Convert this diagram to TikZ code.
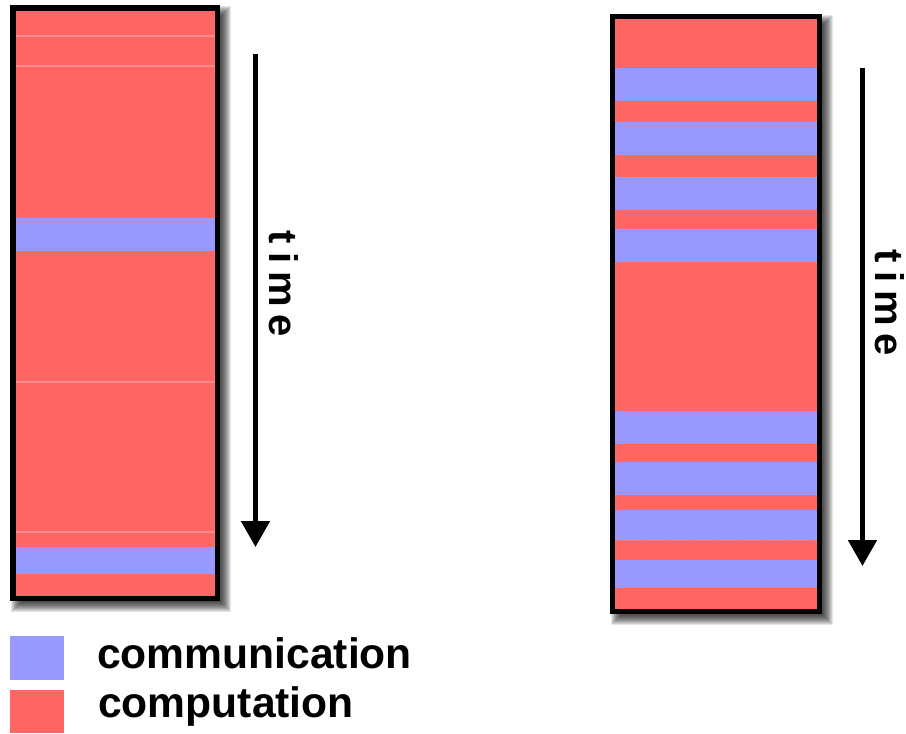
\documentclass[tikz,border=0pt]{standalone}
\usepackage{fontspec}
\setmainfont{Liberation Sans}
\usetikzlibrary{arrows.meta}
\definecolor{comp}{RGB}{255,102,102}
\definecolor{comm}{RGB}{153,153,255}
\definecolor{seam}{RGB}{255,140,140}
\newcommand\barshadow[4]{%
  \foreach \d in {-5,...,5}{%
    \fill[black,opacity=0.1] ({#1+6-\d},{#2+6-\d}) rectangle ({#3+6+\d},{#4+6+\d});}}
\begin{document}
\begin{tikzpicture}[x=1pt,y=-1pt,
  border/.style={draw=black,line width=5.5pt},
  commband/.style={fill=comm},
  seamline/.style={draw=seam,line width=1.5pt},
  timearrow/.style={line width=5pt,-{Triangle[length=26pt,width=28pt]}},
  timelabel/.style={rotate=-90,anchor=base,inner sep=0pt,font=\fontsize{40}{44}\selectfont\bfseries},
  legtext/.style={anchor=base west,inner sep=0pt,font=\fontsize{42.6}{48}\selectfont\bfseries},
  legbox/.style={inner sep=0pt,anchor=north west}]
\useasboundingbox (0,0) rectangle (906,734);
% ---------- left bar ----------
\barshadow{10}{5}{220}{601}
\fill[comp] (13,8) rectangle (217.5,598.5);
\foreach \y in {36,66,382,532} \draw[seamline] (16,\y) -- (215,\y);
\fill[commband] (16,218) rectangle (215,251);
\fill[commband] (16,547) rectangle (215,574);
\draw[border] (13,8) rectangle (217.5,598.5);
% ---------- right bar ----------
\barshadow{610}{14}{822}{614}
\fill[comp] (612.5,16.5) rectangle (819.5,611.5);
\foreach \a/\b in {68/101,122/155,177/210,229/262,411/444,462/495,510/540,560/588}
  \fill[commband] (615,\a) rectangle (817,\b);
\draw[seam,line width=1pt,dotted] (615,540) -- (817,540);
\draw[border] (612.5,16.5) rectangle (819.5,611.5);
% ---------- arrows ----------
\coordinate (la1) at (255.5,54);
\coordinate (la2) at (255.5,547);
\draw[timearrow] (la1) -- (la2);
\node[timelabel] (lt) at (269,284) {t\hspace{8pt}i\hspace{8pt}m\hspace{8pt}e};
\coordinate (ra1) at (862.5,68);
\coordinate (ra2) at (862.5,566);
\draw[timearrow] (ra1) -- (ra2);
\node[timelabel] (rt) at (875,303) {t\hspace{8pt}i\hspace{8pt}m\hspace{8pt}e};
% ---------- legend ----------
\node[legbox,fill=comm,minimum width=54pt,minimum height=44pt] (lb1) at (10,636) {};
\node[legbox,fill=comp,minimum width=54pt,minimum height=43pt] (lb2) at (10,690) {};
\node[legtext] (l1) at (97,668) {communication};
\node[legtext] (l2) at (98,717) {computation};
\end{tikzpicture}
\end{document}
